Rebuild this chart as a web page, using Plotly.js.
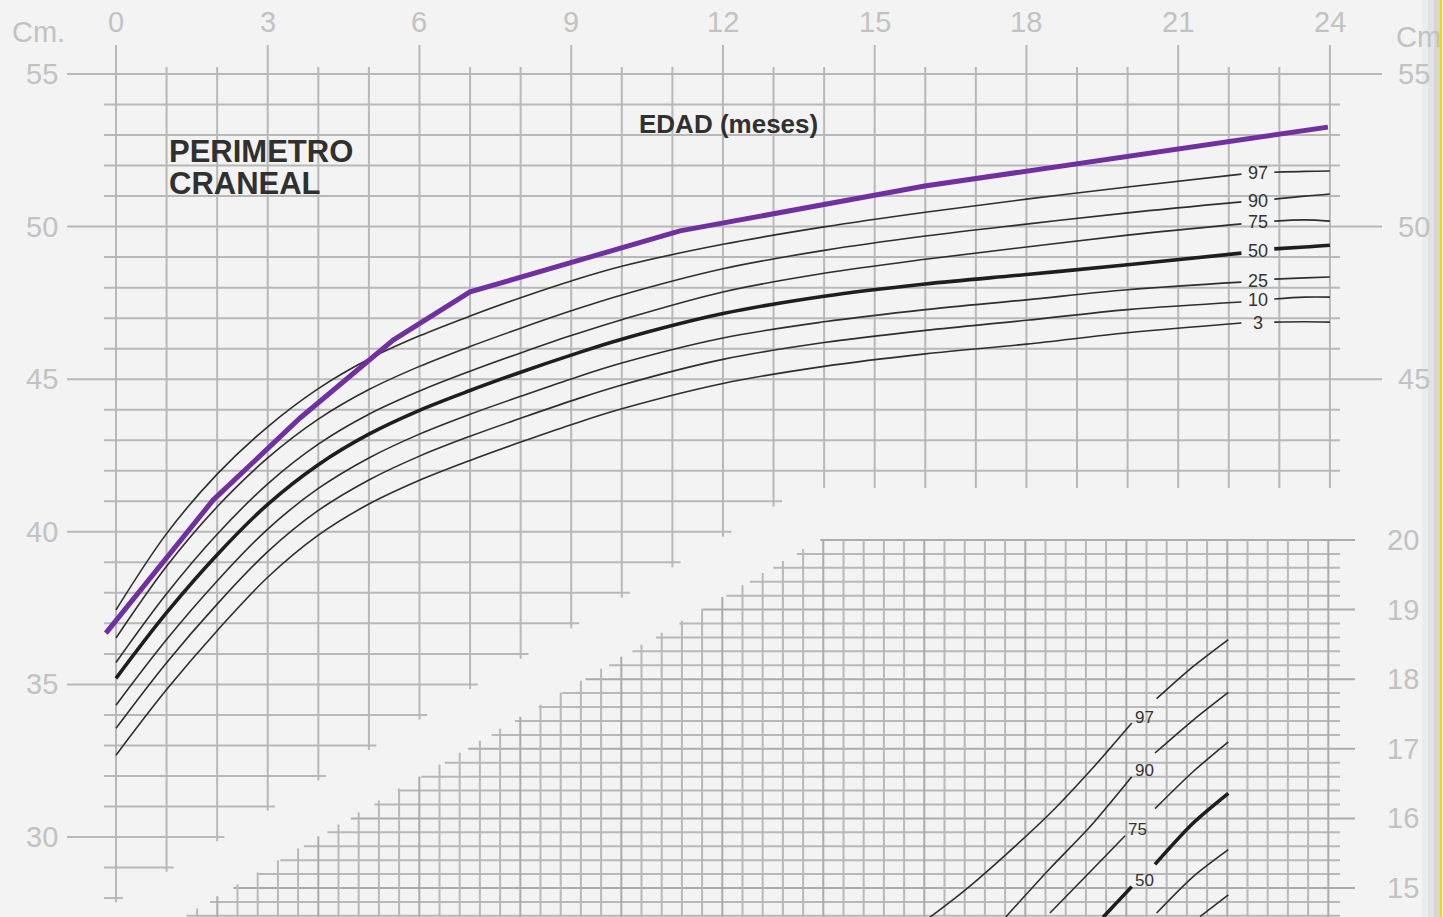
<!DOCTYPE html>
<html><head><meta charset="utf-8">
<script src="https://cdn.plot.ly/plotly-3.0.1.min.js"></script>
<style>html,body{margin:0;padding:0;background:#f3f3f3;} #chart{width:1443px;height:917px;}</style>
</head><body><div id="chart"></div>
<script>
// ---------- DATA ----------
// Head circumference percentiles (cm) by age (months)
const months = [0, 1, 2, 3, 4, 5, 6, 7, 8, 9, 10, 12, 14, 16, 18, 20, 22.25, 22.9, 23.5, 24];
const p97 = [37.44, 39.94, 41.89, 43.44, 44.69, 45.66, 46.42, 47.07, 47.67, 48.22, 48.70, 49.42, 49.99, 50.47, 50.9, 51.3, 51.72, 51.78, 51.81, 51.82];
const p90 = [36.52, 38.87, 40.82, 42.42, 43.69, 44.66, 45.42, 46.07, 46.67, 47.24, 47.76, 48.62, 49.22, 49.69, 50.08, 50.45, 50.81, 50.9, 51.0, 51.07];
const p75 = [35.72, 37.97, 39.92, 41.57, 42.87, 43.85, 44.61, 45.26, 45.86, 46.43, 46.95, 47.86, 48.47, 48.93, 49.33, 49.72, 50.09, 50.18, 50.22, 50.18];
const p50 = [35.2, 37.35, 39.25, 40.9, 42.2, 43.2, 43.98, 44.63, 45.23, 45.79, 46.31, 47.15, 47.72, 48.12, 48.43, 48.75, 49.13, 49.27, 49.33, 49.39];
const p25 = [34.32, 36.47, 38.39, 40.09, 41.42, 42.42, 43.2, 43.85, 44.44, 45.01, 45.53, 46.35, 46.88, 47.28, 47.6, 47.93, 48.18, 48.28, 48.32, 48.35];
const p10 = [33.56, 35.71, 37.63, 39.35, 40.7, 41.7, 42.48, 43.13, 43.72, 44.29, 44.81, 45.65, 46.2, 46.6, 46.93, 47.28, 47.53, 47.63, 47.69, 47.69];
const p3  = [32.68, 34.83, 36.76, 38.51, 39.89, 40.91, 41.69, 42.34, 42.94, 43.51, 44.03, 44.86, 45.42, 45.83, 46.15, 46.52, 46.84, 46.87, 46.88, 46.87];
const percentileNames = ['97', '90', '75', '50', '25', '10', '3'];
const labelGap = [22.25, 22.9];   // curves are interrupted here for the labels

// Patient measurements (purple line)
const patientMonths = [-0.2, 1.92, 3.64, 5.48, 7.0, 11.15, 15.99, 23.96];
const patientCm     = [36.68, 41.04, 43.73, 46.28, 47.86, 49.86, 51.33, 53.26];

// Inset (weight, kg) curves; x in grid columns of the inset
const w97L = {k: [5.28, 7.02, 9.0, 11.22, 13.45, 15.27], w: [14.58, 14.97, 15.47, 16.07, 16.76, 17.37]};
const w97R = {k: [16.5, 18.3, 20.05], w: [17.72, 18.18, 18.57]};
const w90L = {k: [9.02, 11.22, 13.2, 15.27], w: [14.58, 15.28, 15.88, 16.6]};
const w90R = {k: [16.42, 18.3, 20.05], w: [16.94, 17.41, 17.81]};
const w75L = {k: [11.22, 13.2, 14.94], w: [14.64, 15.23, 15.75]};
const w75R = {k: [16.42, 18.3, 20.05], w: [16.14, 16.67, 17.10]};
const w50L = {k: [13.85, 15.27], w: [14.58, 15.02]};
const w50R = {k: [16.42, 18.3, 20.05], w: [15.34, 15.93, 16.36]};
const w25R = {k: [16.5, 18.3, 20.05], w: [14.64, 15.16, 15.55]};
const w10R = {k: [18.65, 20.05], w: [14.59, 14.9]};
const insetLabels = ['97', '90', '75', '50'];

// Tick labels
const monthTicks = [0, 3, 6, 9, 12, 15, 18, 21, 24];
const cmTicksLeft = [30, 35, 40, 45, 50, 55];
const cmTicksRight = [45, 50, 55];
const kgTicks = [15, 16, 17, 18, 19, 20];
const textTitle = ['PERIMETRO', 'CRANEAL'];
const textAge = 'EDAD (meses)';

// ---------- GEOMETRY (page pixels -> axis units) ----------
const X0PX = 116, PXM = 50.58, Y55PX = 74, PXCM = 30.52;
const IX0 = 823.3, PXK = 20.2, IY20 = 540, PXKG = 69.6;
const mAt = px => (px - X0PX) / PXM;
const cAt = py => 55 - (py - Y55PX) / PXCM;
const kAt = px => (px - IX0) / PXK;
const wAt = py => 20 - (py - IY20) / PXKG;
const pxM = m => X0PX + PXM * m;
const pyC = c => Y55PX + PXCM * (55 - c);
const pyW = w => IY20 + PXKG * (20 - w);

const gridColor = '#b8b8b8';
const shapes = [];

// main grid, horizontal
for (let c = 28; c <= 55; c++) {
  const py = pyC(c), major = c % 5 === 0;
  const x0 = major ? mAt(67) : mAt(104);
  let x1;
  if (py <= 488) x1 = major ? mAt(1382) : mAt(1340);
  else x1 = mAt(427 + (715 - py) / 0.602);
  shapes.push({type: 'line', xref: 'x', yref: 'y', x0: x0, x1: x1, y0: c, y1: c,
    line: {color: gridColor, width: 2}, layer: 'below'});
}
// main grid, vertical
for (let m = 0; m <= 24; m++) {
  const px = pxM(m);
  const top = m % 3 === 0 ? cAt(45) : cAt(67);
  const bot = cAt(Math.max(488, 715 + 0.602 * (427 - px)));
  shapes.push({type: 'line', xref: 'x', yref: 'y', x0: m, x1: m, y0: top, y1: bot,
    line: {color: gridColor, width: 2}, layer: 'below'});
}
// inset grid, horizontal
for (let i = 0; i <= 27; i++) {
  const w = 20 - 0.2 * i, py = pyW(w), major = i % 5 === 0;
  const left = IX0 - (py - IY20) / 0.593 - 3;
  const right = major ? 1355 : 1340;
  shapes.push({type: 'line', xref: 'x2', yref: 'y2', x0: kAt(left), x1: kAt(right), y0: w, y1: w,
    line: {color: major ? '#ababab' : gridColor, width: 2}, layer: 'below'});
}
// inset grid, vertical
for (let k = -31; k <= 25; k++) {
  const px = IX0 + PXK * k;
  const topPy = k >= 0 ? IY20 : IY20 + 0.593 * (IX0 - px) - 3;
  shapes.push({type: 'line', xref: 'x2', yref: 'y2', x0: k, x1: k, y0: wAt(topPy), y1: wAt(925),
    line: {color: k % 5 === 0 ? '#ababab' : gridColor, width: 2}, layer: 'below'});
}
// scanned page edge at the right
const edge = [['#ececec', 1422, 1428], ['#e2e2e2', 1428, 1434], ['#d6d6d6', 1434, 1440]];
edge.forEach(e => shapes.push({type: 'rect', xref: 'paper', yref: 'paper', x0: e[1] / 1443, x1: e[2] / 1443,
  y0: 0, y1: 1, fillcolor: e[0], line: {width: 0}, layer: 'below'}));
shapes.push({type: 'line', xref: 'paper', yref: 'paper', x0: 1441 / 1443, x1: 1441 / 1443, y0: 0, y1: 1,
  line: {color: '#f2dc00', width: 2}});

// ---------- TRACES ----------
const traces = [];
const pcts = [p97, p90, p75, p50, p25, p10, p3];
pcts.forEach((vals, i) => {
  const thick = percentileNames[i] === '50';
  const lineStyle = {color: thick ? '#1e1e1e' : '#2e2e2e', width: thick ? 3.6 : 1.6, shape: 'spline', smoothing: 1};
  const lx = [], ly = [], rx = [], ry = [];
  months.forEach((m, j) => {
    if (m <= labelGap[0]) { lx.push(m); ly.push(vals[j]); }
    if (m >= labelGap[1]) { rx.push(m); ry.push(vals[j]); }
  });
  traces.push({x: lx, y: ly, mode: 'lines', line: lineStyle, hoverinfo: 'skip'});
  traces.push({x: rx, y: ry, mode: 'lines', line: lineStyle, hoverinfo: 'skip'});
});
const insetSegs = [[w97L, 0], [w97R, 0], [w90L, 0], [w90R, 0], [w75L, 0], [w75R, 0], [w50L, 1], [w50R, 1], [w25R, 0], [w10R, 0]];
insetSegs.forEach(s => traces.push({x: s[0].k, y: s[0].w, xaxis: 'x2', yaxis: 'y2', mode: 'lines',
  line: {color: s[1] ? '#1e1e1e' : '#2e2e2e', width: s[1] ? 3.6 : 1.6, shape: 'spline', smoothing: 0.8}, hoverinfo: 'skip'}));
traces.push({x: patientMonths, y: patientCm, mode: 'lines', line: {color: '#7030a0', width: 5}, hoverinfo: 'skip'});

// ---------- ANNOTATIONS ----------
const ann = [];
const tickFont = {family: 'Liberation Sans, Arial, sans-serif', size: 29, color: '#c2c2c2'};
const A = (o) => Object.assign({showarrow: false, xanchor: 'center', yanchor: 'middle'}, o);
monthTicks.forEach(m => ann.push(A({xref: 'x', yref: 'y', x: m, y: cAt(22), text: String(m), font: tickFont})));
cmTicksLeft.forEach(c => ann.push(A({xref: 'x', yref: 'y', x: mAt(42), y: c, text: String(c), font: tickFont})));
cmTicksRight.forEach(c => ann.push(A({xref: 'x', yref: 'y', x: mAt(1414), y: c, text: String(c), font: tickFont})));
kgTicks.forEach(w => ann.push(A({xref: 'x2', yref: 'y2', x: kAt(1403), y: w, text: String(w), font: tickFont})));
ann.push(A({xref: 'x', yref: 'y', x: mAt(38), y: cAt(32), text: 'Cm.', font: tickFont}));
ann.push(A({xref: 'x', yref: 'y', x: mAt(1418), y: cAt(37), text: 'Cm', font: tickFont}));

const titleFont = {family: 'Liberation Sans, Arial, sans-serif', size: 31, color: '#303030'};
ann.push(A({xref: 'x', yref: 'y', x: mAt(167), y: cAt(151), xanchor: 'left', text: '<b>' + textTitle[0] + '</b>', font: titleFont}));
ann.push(A({xref: 'x', yref: 'y', x: mAt(167), y: cAt(183), xanchor: 'left', text: '<b>' + textTitle[1] + '</b>', font: titleFont}));
ann.push(A({xref: 'x', yref: 'y', x: mAt(728), y: cAt(124), text: '<b>' + textAge + '</b>',
  font: {family: 'Liberation Sans, Arial, sans-serif', size: 26, color: '#303030'}}));

const pctFont = {family: 'Liberation Sans, Arial, sans-serif', size: 18, color: '#333333'};
pcts.forEach((vals, i) => {
  const a = months.indexOf(labelGap[0]), b = months.indexOf(labelGap[1]);
  ann.push(A({xref: 'x', yref: 'y', x: (labelGap[0] + labelGap[1]) / 2, y: (vals[a] + vals[b]) / 2,
    text: percentileNames[i], font: pctFont}));
});
[w97L, w90L, w75L, w50L].forEach((s, i) => {
  const n = s.k.length - 1;
  ann.push(A({xref: 'x2', yref: 'y2', x: s.k[n], y: s.w[n], xanchor: 'left', xshift: 1, yshift: 6,
    text: insetLabels[i], font: {family: 'Liberation Sans, Arial, sans-serif', size: 17, color: '#333333'}}));
});

const layout = {
  width: 1443, height: 917, margin: {l: 0, r: 0, t: 0, b: 0, pad: 0},
  paper_bgcolor: '#f3f3f3', plot_bgcolor: '#f3f3f3', showlegend: false, hovermode: false,
  xaxis: {range: [mAt(0), mAt(1443)], visible: false, fixedrange: true},
  yaxis: {range: [cAt(917), cAt(0)], visible: false, fixedrange: true},
  xaxis2: {range: [kAt(0), kAt(1443)], overlaying: 'x', visible: false, fixedrange: true},
  yaxis2: {range: [wAt(917), wAt(0)], overlaying: 'y', visible: false, fixedrange: true},
  shapes: shapes, annotations: ann
};
Plotly.newPlot('chart', traces, layout, {displayModeBar: false, staticPlot: true});
</script></body></html>
